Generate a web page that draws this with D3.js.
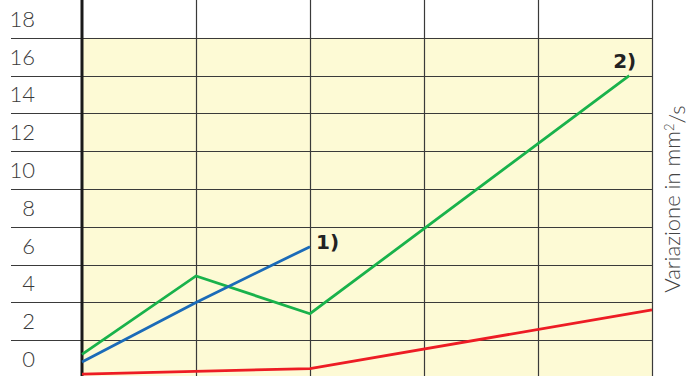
<!DOCTYPE html>
<html>
<head>
<meta charset="utf-8">
<script src="https://cdn.jsdelivr.net/npm/d3@7"></script>
<style>
  body { margin: 0; background: #fff; }
</style>
</head>
<body>
<div id="chart"></div>
<script>
// Data
const yTicks = [0, 2, 4, 6, 8, 10, 12, 14, 16, 18];
const xCols = [0, 1, 2, 3, 4, 5];
const series1 = [[0, 0.85], [1, 4.0], [2, 6.95]];                 // blue, "1)"
const series2 = [[0, 1.25], [1, 5.4], [2, 3.4], [4.8, 16.0]];     // green, "2)"
const seriesRed = [[0, 0.2], [2, 0.5], [5, 3.6]];                 // red

const W = 689, H = 376;
const svg = d3.select("#chart").append("svg")
    .attr("width", W).attr("height", H);

const x = d3.scaleLinear().domain([0, 5]).range([82, 652]);
const y = d3.scaleLinear().domain([0, 20]).range([378, 0]);

// yellow plot background
svg.append("rect")
    .attr("x", x(0)).attr("y", y(18))
    .attr("width", x(5) - x(0)).attr("height", y(0) - y(18))
    .style("fill", "#fdfad5");

// horizontal grid lines
svg.selectAll(".hline")
    .data(yTicks.slice(1))
    .enter().append("line")
    .attr("x1", 11).attr("x2", x(5))
    .attr("y1", d => Math.round(y(d)) + 0.5).attr("y2", d => Math.round(y(d)) + 0.5)
    .style("stroke", "#3a3a3a").style("stroke-width", 1.2);

// vertical grid lines
svg.selectAll(".vline")
    .data(xCols.slice(1))
    .enter().append("line")
    .attr("x1", d => Math.round(x(d)) + 0.5).attr("x2", d => Math.round(x(d)) + 0.5)
    .attr("y1", 0).attr("y2", H)
    .style("stroke", "#3a3a3a").style("stroke-width", 1.2);

// y axis (thick)
svg.append("line")
    .attr("x1", x(0)).attr("x2", x(0))
    .attr("y1", 0).attr("y2", H)
    .style("stroke", "#1a1a1a").style("stroke-width", 3);

// tick labels sit in the band above each value
svg.selectAll(".tick-label")
    .data(yTicks)
    .enter().append("text")
    .attr("x", 35)
    .attr("y", d => y(d + 1))
    .attr("dy", "0.36em")
    .attr("text-anchor", "end")
    .style("font-family", "Lato, 'DejaVu Sans', sans-serif")
    .style("font-weight", 300)
    .style("font-size", "22px")
    .style("fill", "#3a3a3a")
    .text(d => d);

const line = d3.line().x(d => x(d[0])).y(d => y(d[1]));

svg.append("path").datum(seriesRed).attr("d", line)
    .style("fill", "none").style("stroke", "#ed1c24").style("stroke-width", 2.8);
svg.append("path").datum(series2).attr("d", line)
    .style("fill", "none").style("stroke", "#19b24b").style("stroke-width", 2.8);
svg.append("path").datum(series1).attr("d", line)
    .style("fill", "none").style("stroke", "#1b6bb8").style("stroke-width", 2.8);

// series labels
const last1 = series1[series1.length - 1];
const last2 = series2[series2.length - 1];
svg.append("text")
    .attr("x", x(last1[0]) + 6).attr("y", y(last1[1]) + 2)
    .style("font-family", "'DejaVu Sans', sans-serif")
    .style("font-weight", "bold").style("font-size", "20px").style("fill", "#222")
    .text("1)");
svg.append("text")
    .attr("x", x(last2[0]) + 7).attr("y", y(last2[1]) - 8)
    .attr("text-anchor", "end")
    .style("font-family", "'DejaVu Sans', sans-serif")
    .style("font-weight", "bold").style("font-size", "20px").style("fill", "#222")
    .text("2)");

// right-side axis title
const title = svg.append("text")
    .attr("transform", "translate(680,199) rotate(-90)")
    .attr("text-anchor", "middle")
    .style("font-family", "Lato, 'DejaVu Sans', sans-serif")
    .style("font-weight", 300)
    .style("font-size", "22px")
    .style("fill", "#444");
title.append("tspan").text("Variazione in mm");
title.append("tspan").attr("dy", "-0.5em").style("font-size", "13px").text("2");
title.append("tspan").attr("dy", "0.5em").text("/s");
</script>
</body>
</html>
